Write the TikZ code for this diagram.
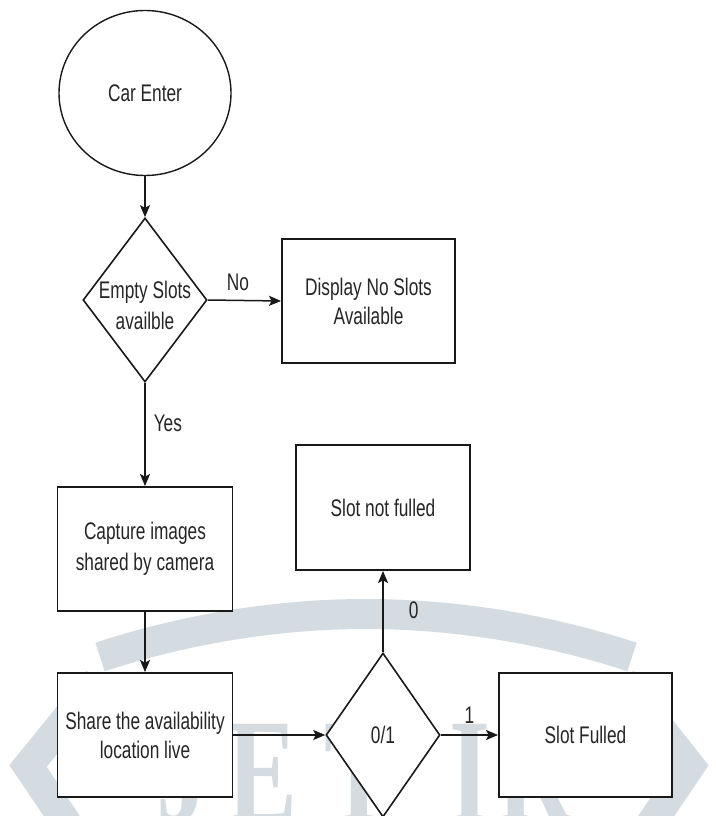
\documentclass[tikz,border=0pt]{standalone}
\usepackage{fontspec}
\setmainfont[FakeStretch=0.72]{Liberation Sans}
\newfontfamily\wmfont[FakeStretch=0.7]{Liberation Serif}
\usetikzlibrary{shapes.geometric,arrows.meta}
\definecolor{wm}{RGB}{212,220,226}
\definecolor{ink}{RGB}{25,25,25}
\definecolor{txtc}{RGB}{38,38,38}
\begin{document}
\begin{tikzpicture}[x=1pt,y=-1pt,
  every node/.style={font=\fontsize{24}{31}\selectfont, text=txtc},
  box/.style={draw=ink, fill=white, line width=1.9pt, minimum width=173pt, minimum height=124pt, inner sep=0pt, align=center},
  dia/.style={draw=ink, fill=white, line width=1.6pt, diamond, inner sep=0pt},
  ell/.style={draw=ink, fill=white, line width=1.4pt, ellipse, inner sep=0pt, minimum width=172pt, minimum height=165pt},
  conn/.style={draw=ink, line width=1.5pt, -{Stealth[length=12pt,width=10pt,inset=2.5pt]}},
  lbl/.style={inner sep=0pt},
  wmband/.style={draw=wm, line width=30pt},
  wmletter/.style={font=\wmfont\bfseries\fontsize{150}{150}\selectfont, text=wm, inner sep=0pt, anchor=base}
]
\useasboundingbox (0,0) rectangle (715,816);
\fill[white] (0,0) rectangle (715,816);
% watermark
\begin{scope}
\clip (0,0) rectangle (715,816);
\draw[wmband] (100,657) parabola bend (366,614) (632,657);
\draw[wmband, line join=miter] (98,680) -- (28,766) -- (78,840);
\draw[wmband, line join=miter] (622,680) -- (690,766) -- (640,840);
\node[wmletter] (wJ) at (183,822) {J};
\node[wmletter] (wE) at (263,822) {E};
\node[wmletter] (wT) at (360,822) {T};
\node[wmletter] (wI) at (470,822) {I};
\node[wmletter] (wR) at (535,822) {R};
\end{scope}
% nodes
\node[ell] (start) at (145,93) {Car Enter};
\node[dia, minimum width=124pt, minimum height=164pt] (d1) at (145,300) {};
\node[align=center, inner sep=0pt] (d1t) at (145,305) {Empty Slots\\availble};
\node[box] (disp) at (368.5,301) {Display No Slots\\[-2pt]Available};
\node[box, minimum width=175pt] (cap) at (145,549) {Capture images\\shared by camera};
\node[box, minimum width=175pt] (share) at (145,735) {Share the availability\\[-2pt]location live};
\node[dia, minimum width=114pt, minimum height=164pt] (d2) at (383,735) {};
\node[inner sep=0pt] (d2t) at (383,735) {0/1};
\node[box, minimum width=174pt, minimum height=125pt] (snf) at (383,507.5) {Slot not fulled};
\node[box] (sf) at (585.5,735) {Slot Fulled};
% connectors
\draw[conn] (start) -- (d1);
\draw[conn] (d1.east) -- node[lbl, pos=0.41, above=9pt] {No} (disp.west);
\draw[conn] (d1.south) -- node[lbl, pos=0.39, right=8pt] {Yes} (cap.north);
\draw[conn] (cap.south) -- (share.north);
\draw[conn] (share.east) -- (d2.west);
\draw[conn] (d2.north) -- node[lbl, pos=0.52, right=25pt] {0} (snf.south);
\draw[conn] (d2.east) -- node[lbl, pos=0.5, above=11pt] {1} (sf.west);
\end{tikzpicture}
\end{document}
